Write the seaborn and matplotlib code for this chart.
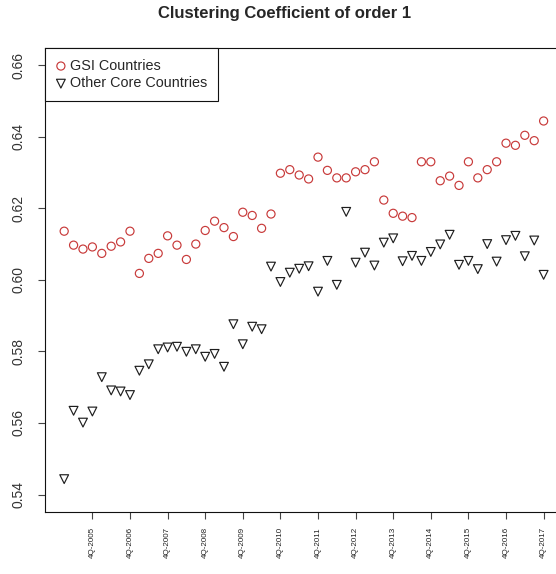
import numpy as np
import pandas as pd
import seaborn as sns
import matplotlib.pyplot as plt
from matplotlib.ticker import FixedLocator

# quarterly observations 1Q-2005 .. 4Q-2017
quarter_idx = np.arange(52)
tick_pos = np.arange(3, 52, 4)
tick_labels = ['4Q-{}'.format(y) for y in range(2005, 2018)]

gsi_values = [
    0.6136, 0.6097, 0.6086, 0.6092, 0.6074, 0.6094, 0.6106, 0.6136,
    0.6018, 0.6060, 0.6074, 0.6123, 0.6097, 0.6057, 0.6100, 0.6138,
    0.6164, 0.6146, 0.6121, 0.6189, 0.6180, 0.6144, 0.6184, 0.6298,
    0.6308, 0.6293, 0.6282, 0.6343, 0.6306, 0.6285, 0.6285, 0.6302,
    0.6308, 0.6330, 0.6223, 0.6186, 0.6178, 0.6174, 0.6330, 0.6330,
    0.6277, 0.6290, 0.6264, 0.6330, 0.6285, 0.6308, 0.6330, 0.6382,
    0.6376, 0.6404, 0.6389, 0.6444,
]
core_values = [
    0.5443, 0.5634, 0.5601, 0.5632, 0.5728, 0.5691, 0.5688, 0.5678,
    0.5746, 0.5764, 0.5806, 0.5811, 0.5813, 0.5799, 0.5806, 0.5785,
    0.5793, 0.5757, 0.5876, 0.5820, 0.5869, 0.5862, 0.6037, 0.5994,
    0.6020, 0.6031, 0.6038, 0.5967, 0.6053, 0.5986, 0.6190, 0.6048,
    0.6076, 0.6040, 0.6104, 0.6116, 0.6052, 0.6067, 0.6053, 0.6078,
    0.6099, 0.6126, 0.6042, 0.6053, 0.6030, 0.6100, 0.6051, 0.6111,
    0.6123, 0.6066, 0.6110, 0.6014,
]

gsi_color = '#c83a3a'
core_color = '#1e1e1e'

df = pd.DataFrame({'q': quarter_idx, 'gsi': gsi_values, 'core': core_values})

sns.set_style('ticks')
plt.rcParams['font.family'] = ['Liberation Sans', 'DejaVu Sans']

fig = plt.figure(figsize=(5.56, 5.74), dpi=100)
ax = fig.add_axes([45 / 556, 1 - 511.7 / 574, 517.8 / 556, 463.7 / 574])

sns.scatterplot(data=df, x='q', y='gsi', marker='o', s=34, facecolor='none',
                edgecolor=gsi_color, linewidth=0.85, ax=ax, label='GSI Countries')
sns.scatterplot(data=df, x='q', y='core', marker='v', s=40, facecolor='none',
                edgecolor=core_color, linewidth=0.85, ax=ax, label='Other Core Countries')

ax.set_xlim(-2.04, 53.04)
ax.set_ylim(0.5352, 0.6648)
ax.xaxis.set_major_locator(FixedLocator(tick_pos))
ax.set_xticklabels(tick_labels, rotation=90, fontsize=5.8, color='#222222')
ax.set_yticks([0.54, 0.56, 0.58, 0.60, 0.62, 0.64, 0.66])
ax.set_yticklabels(['0.54', '0.56', '0.58', '0.60', '0.62', '0.64', '0.66'],
                   rotation=90, va='center', fontsize=10, color='#333333')
ax.tick_params(axis='x', length=5, width=0.8, pad=6, color='#444444')
ax.tick_params(axis='y', length=5, width=0.8, pad=9, color='#444444')
ax.set_xlabel('')
ax.set_ylabel('')
for side in ['left', 'bottom', 'top', 'right']:
    ax.spines[side].set_visible(True)
    ax.spines[side].set_linewidth(0.8)
    ax.spines[side].set_color('#111111')

leg = ax.legend(loc='upper left', bbox_to_anchor=(0, 1), borderaxespad=0,
                fancybox=False, framealpha=1, edgecolor='#111111', fontsize=10.4,
                handletextpad=0.3, borderpad=0.75, labelspacing=0.25,
                handlelength=0.7)
leg.get_frame().set_linewidth(0.8)

fig.text(285 / 556, 1 - 13.5 / 574, 'Clustering Coefficient of order 1',
         ha='center', va='center', fontsize=12, fontweight='bold')

fig.savefig('out.png', dpi=100)
